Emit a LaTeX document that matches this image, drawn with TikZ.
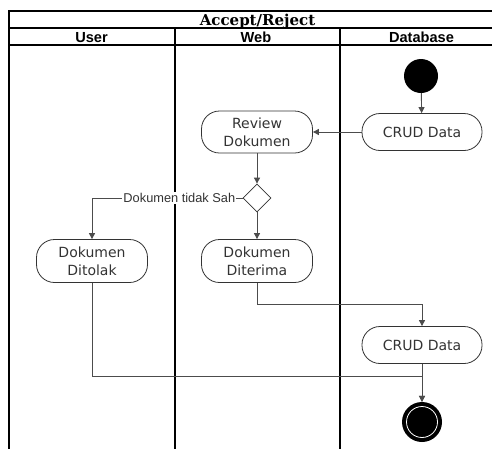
\documentclass[tikz,border=0pt]{standalone}
\usepackage{fontspec}
\usetikzlibrary{arrows.meta,shapes.geometric,calc}
\newfontfamily\nodefont{DejaVu Sans}
\newfontfamily\headfont{Liberation Sans}
\newfontfamily\titlefont{DejaVu Serif}
\begin{document}
\begin{tikzpicture}[x=1pt,y=-1pt,
  lane/.style={draw=black,line width=1.1pt},
  act/.style={draw=black!80,line width=0.8pt,rounded corners=18pt,align=center,
    font=\nodefont\fontsize{14}{18}\selectfont,text=black!80,inner sep=0pt},
  conn/.style={draw=black!70,line width=0.9pt,-{Triangle[length=6pt,width=6pt]}},
  hdr/.style={font=\headfont\bfseries\fontsize{14.6}{16}\selectfont,inner sep=0pt,anchor=base}]
\useasboundingbox (0,0) rectangle (492,448);
\fill[white] (0,0) rectangle (492,448);
\begin{scope}
\clip (0,0) rectangle (492,448);
% swimlane frame
\draw[lane] (9,452) -- (9,11) -- (500,11);
\draw[lane] (9,28) -- (500,28);
\draw[lane] (9,45) -- (500,45);
\draw[lane] (175,28) -- (175,452);
\draw[lane] (340,28) -- (340,452);
\end{scope}
\node[font=\titlefont\bfseries\fontsize{15}{17}\selectfont,inner sep=0pt,anchor=base] (title) at (257.5,25.3) {Accept/Reject};
\node[hdr] (huser) at (91.5,42.5) {User};
\node[hdr] (hweb) at (256,42.5) {Web};
\node[hdr] (hdb) at (421.5,42.5) {Database};
% nodes
\node[circle,fill=black,minimum size=34pt,inner sep=0pt] (start) at (421,76) {};
\node[act,minimum width=120pt,minimum height=37pt] (crud1) at (422,132) {CRUD Data};
\node[act,minimum width=111pt,minimum height=42pt] (review) at (257,132) {Review\\Dokumen};
\node[diamond,draw=black!80,line width=0.8pt,minimum width=28pt,minimum height=28pt,inner sep=0pt] (dec) at (257,198) {};
\node[act,minimum width=111pt,minimum height=43pt] (ditolak) at (92,261) {Dokumen\\Ditolak};
\node[act,minimum width=111pt,minimum height=43pt] (diterima) at (257,261) {Dokumen\\Diterima};
\node[act,minimum width=120pt,minimum height=37pt] (crud2) at (422,345) {CRUD Data};
\node[circle,fill=black,minimum size=40pt,inner sep=0pt] (end) at (422,422) {};
\draw[white,line width=0.8pt] (end.center) circle (15.5pt);
% connectors
\draw[conn] (start) -- (crud1);
\draw[conn] (crud1) -- (review);
\draw[conn] (review) -- (dec);
\draw[conn] (dec) -- (diterima);
\draw[conn] (dec.west) -| node[pos=0.21,fill=white,inner sep=1pt,text=black!80,
  font=\headfont\fontsize{12.8}{14}\selectfont] {Dokumen tidak Sah} (ditolak.north);
\draw[conn] (diterima.south) -- ++(0,22) -| (crud2.north);
\draw[conn] (ditolak.south) -- ++(0,94) -| (end.north);
\draw[conn] (crud2) -- (end);
\end{tikzpicture}
\end{document}
